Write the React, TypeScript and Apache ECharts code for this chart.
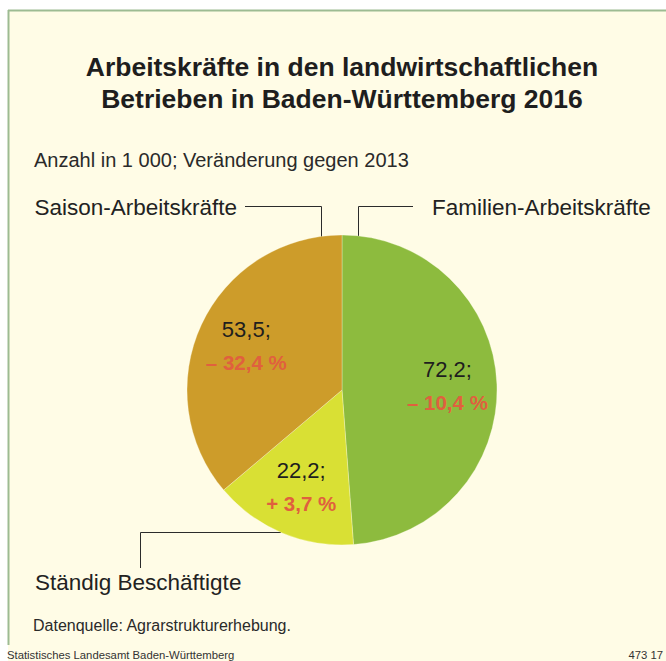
import React, { useEffect, useRef } from "react";
import * as echarts from "echarts";

const categories = ["Familien-Arbeitskräfte", "Ständig Beschäftigte", "Saison-Arbeitskräfte"];
const values = [72.2, 22.2, 53.5];
const changes = [-10.4, 3.7, -32.4];
const colors = ["#8DBB3E", "#D9E034", "#CD9C2A"];

const titleLines = ["Arbeitskräfte in den landwirtschaftlichen", "Betrieben in Baden-Württemberg 2016"];
const subtitle = "Anzahl in 1 000; Veränderung gegen 2013";
const source = "Datenquelle: Agrarstrukturerhebung.";
const footerLeft = "Statistisches Landesamt Baden-Württemberg";
const footerRight = "473 17";

const FONT = "'Liberation Sans', Arial, sans-serif";

const fmt = (v: number) => v.toFixed(1).replace(".", ",");
const fmtChange = (c: number) => (c < 0 ? "\u2013 " : "+ ") + fmt(Math.abs(c)) + " %";

export default function App() {
  const ref = useRef<HTMLDivElement>(null);
  useEffect(() => {
    document.body.style.margin = "0";
    const chart = echarts.init(ref.current!, undefined, { renderer: "svg" });
    const data = categories.map((name, i) => ({
      name,
      value: values[i],
      itemStyle: { color: colors[i] },
    }));
    const labelData = categories.map((name, i) => ({
      name,
      value: values[i],
      change: changes[i],
    }));
    const lineStyle = { stroke: "#2b2b2b", lineWidth: 1 };
    chart.setOption({
      animation: false,
      backgroundColor: "#ffffff",
      graphic: [
        { type: "rect", z: -10, shape: { x: 8, y: 10, width: 666, height: 661 }, style: { fill: "#FFFCE6" } },
        { type: "line", z: -5, shape: { x1: 8, y1: 10.5, x2: 666, y2: 10.5 }, style: { stroke: "#9DBB92", lineWidth: 2 } },
        { type: "line", z: -5, shape: { x1: 8.5, y1: 10, x2: 8.5, y2: 645 }, style: { stroke: "#9DBB92", lineWidth: 2 } },
        {
          type: "text", x: 342, y: 51,
          style: { text: titleLines.join("\n"), font: `bold 26.5px ${FONT}`, fill: "#1e1e1e", textAlign: "center", lineHeight: 32 },
        },
        { type: "text", x: 34, y: 160, style: { text: subtitle, font: `20px ${FONT}`, fill: "#2a2a2a", textVerticalAlign: "middle" } },
        { type: "polyline", shape: { points: [[245, 206.5], [321.5, 206.5], [321.5, 237]] }, style: { ...lineStyle, fill: "none" } },
        { type: "polyline", shape: { points: [[413, 206.5], [358.5, 206.5], [358.5, 237]] }, style: { ...lineStyle, fill: "none" } },
        { type: "polyline", shape: { points: [[281, 532.5], [140.5, 532.5], [140.5, 568]] }, style: { ...lineStyle, fill: "none" } },
        { type: "text", x: 237, y: 207, style: { text: categories[2], font: `22.5px ${FONT}`, fill: "#222", textAlign: "right", textVerticalAlign: "middle" } },
        { type: "text", x: 432, y: 207, style: { text: categories[0], font: `22.5px ${FONT}`, fill: "#222", textAlign: "left", textVerticalAlign: "middle" } },
        { type: "text", x: 35, y: 582, style: { text: categories[1], font: `22.5px ${FONT}`, fill: "#222", textAlign: "left", textVerticalAlign: "middle" } },
        { type: "text", x: 33, y: 625, style: { text: source, font: `16px ${FONT}`, fill: "#2a2a2a", textVerticalAlign: "middle" } },
        { type: "text", x: 7, y: 655, style: { text: footerLeft, font: `11.3px ${FONT}`, fill: "#333", textVerticalAlign: "middle" } },
        { type: "text", x: 663, y: 655, style: { text: footerRight, font: `11.3px ${FONT}`, fill: "#333", textAlign: "right", textVerticalAlign: "middle" } },
      ],
      series: [
        {
          type: "pie",
          center: [342, 390],
          radius: [0, 155],
          startAngle: 90,
          clockwise: true,
          silent: true,
          label: { show: false },
          labelLine: { show: false },
          itemStyle: { borderColor: "rgba(255,255,240,0.5)", borderWidth: 0.6 },
          data,
        },
        {
          type: "pie",
          center: [342, 390],
          radius: [50, 155],
          startAngle: 90,
          clockwise: true,
          silent: true,
          itemStyle: { color: "rgba(0,0,0,0)" },
          labelLine: { show: false },
          label: {
            show: true,
            position: "inside",
            formatter: (p: any) => `{v|${fmt(p.value)};}\n{c|${fmtChange(p.data.change)}}`,
            rich: {
              v: { fontFamily: FONT, fontSize: 22, color: "#1e1e1e", lineHeight: 33, align: "center" },
              c: { fontFamily: FONT, fontSize: 20.5, fontWeight: "bold", color: "#E0603E", lineHeight: 33, align: "center" },
            },
          },
          data: labelData,
        },
      ],
    });
    return () => chart.dispose();
  }, []);
  return <div ref={ref} style={{ width: 666, height: 661 }} />;
}
